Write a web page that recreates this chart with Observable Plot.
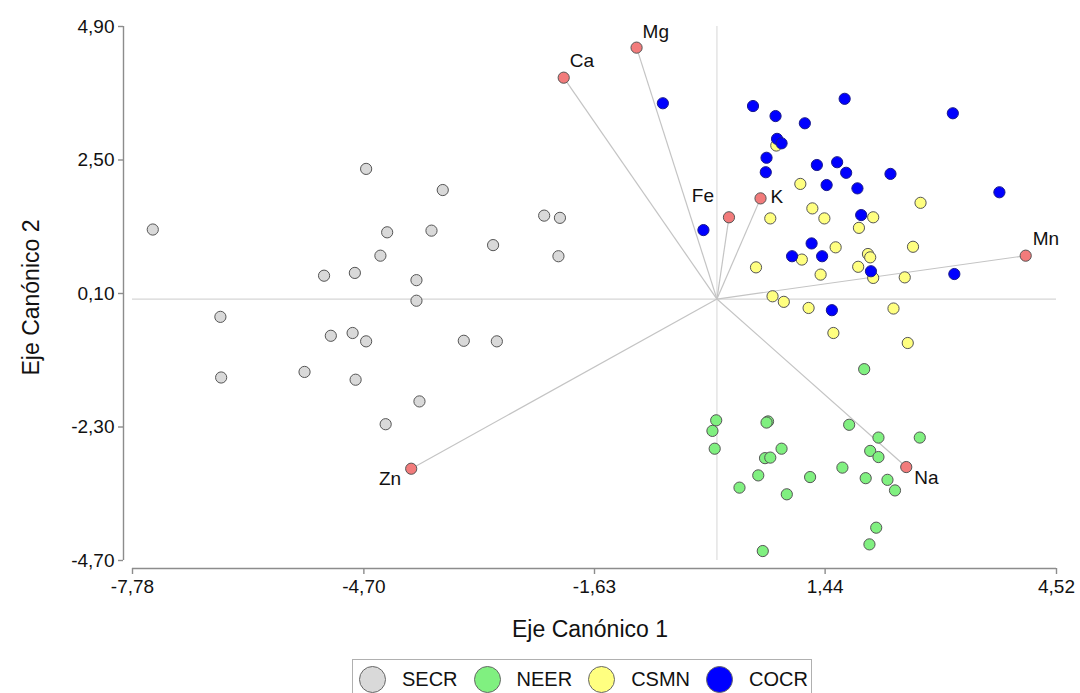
<!DOCTYPE html>
<html>
<head>
<meta charset="utf-8">
<script src="https://cdn.jsdelivr.net/npm/d3@7"></script>
<script src="https://cdn.jsdelivr.net/npm/@observablehq/plot@0.6"></script>
<style>
  body { margin: 0; background: #fff; font-family: "Liberation Sans", Arial, sans-serif; }
  #legend { position: relative; margin-top: 7px; margin-left: 352px; width: 460px; height: 40px;
            border: 1px solid #b0b0b0; box-sizing: border-box; display: flex; align-items: center;
            padding-left: 6px; font-size: 20px; color: #111; }
  #legend .sw { width: 27px; height: 27px; border-radius: 50%; box-sizing: border-box; border: 1.5px solid #666; margin-right: 16px; flex: none; }
  #legend .lb { margin-right: 16px; }
</style>
</head>
<body>
<div id="chart"></div>
<div id="legend"></div>
<script>
// ---- data ----
const groups = ["SECR", "NEER", "CSMN", "COCR"];
const groupColors = ["#d9d9d9", "#80f080", "#ffff80", "#0000ff"];
const groupStrokes = ["#555555", "#555555", "#555555", "#1a1a8c"];

const secrX = [-7.51, -4.67, -3.65, -2.30, -2.09, -4.39, -3.80, -2.98, -2.11, -4.48, -5.23, -4.82, -4.00, -4.00, -6.61, -5.14, -4.85, -4.67, -3.37, -2.93, -6.60, -5.49, -4.81, -3.96, -4.41];
const secrY = [1.25, 2.34, 1.96, 1.50, 1.46, 1.20, 1.23, 0.97, 0.77, 0.78, 0.42, 0.47, 0.34, -0.03, -0.32, -0.66, -0.61, -0.76, -0.75, -0.76, -1.41, -1.31, -1.45, -1.84, -2.25];

const neerX = [1.96, -0.01, -0.06, -0.03, 0.68, 0.66, 1.76, 2.15, 2.70, 0.86, 2.04, 2.15, 0.64, 0.71, 1.67, 0.55, 1.24, 1.98, 2.27, 2.37, 0.30, 0.93, 2.12, 2.03, 0.61];
const neerY = [-1.26, -2.18, -2.37, -2.69, -2.20, -2.22, -2.26, -2.49, -2.49, -2.69, -2.73, -2.84, -2.86, -2.85, -3.03, -3.17, -3.20, -3.22, -3.25, -3.44, -3.39, -3.51, -4.11, -4.41, -4.53];

const csmnX = [0.79, 1.11, 1.27, 0.71, 1.43, 2.08, 2.71, 1.89, 1.58, 2.61, 2.01, 2.04, 1.13, 0.52, 1.88, 1.38, 2.08, 2.50, 0.74, 0.89, 1.22, 2.35, 1.55, 2.54];
const csmnY = [2.76, 2.07, 1.63, 1.45, 1.45, 1.47, 1.73, 1.28, 0.93, 0.94, 0.81, 0.75, 0.71, 0.57, 0.58, 0.44, 0.38, 0.39, 0.05, -0.05, -0.16, -0.17, -0.61, -0.79];

const cocrX = [0.48, 1.70, 0.78, 1.17, 3.14, 0.80, 0.86, 0.66, 0.65, 1.33, 1.60, 1.72, 2.31, 1.46, 1.87, 3.76, -0.18, 1.92, 1.26, 1.00, 1.40, 2.05, 3.16, 1.53, -0.72];
const cocrY = [3.47, 3.60, 3.29, 3.16, 3.34, 2.88, 2.80, 2.54, 2.28, 2.41, 2.46, 2.27, 2.25, 2.05, 1.99, 1.92, 1.24, 1.51, 1.00, 0.77, 0.77, 0.50, 0.45, -0.20, 3.52];

const varNames = ["Ca", "Mg", "Fe", "K", "Mn", "Na", "Zn"];
const varX = [-2.04, -1.07, 0.16, 0.58, 4.11, 2.52, -4.07];
const varY = [3.98, 4.52, 1.47, 1.81, 0.78, -3.02, -3.05];

const xTicks = [-7.78, -4.70, -1.63, 1.44, 4.52];
const yTicks = [-4.70, -2.30, 0.10, 2.50, 4.90];
const xTitle = "Eje Canónico 1";
const yTitle = "Eje Canónico 2";

// ---- build tables ----
const seriesX = [secrX, neerX, csmnX, cocrX];
const seriesY = [secrY, neerY, csmnY, cocrY];
const pts = groups.map((g, i) => seriesX[i].map((x, j) => ({group: g, x, y: seriesY[i][j]})));
const vars = varNames.map((n, i) => ({name: n, x: varX[i], y: varY[i]}));

// label placement style per variable
const labelStyle = {
  Ca: {anchor: "start", dx: 6, dy: -17},
  Mg: {anchor: "start", dx: 6, dy: -16},
  Fe: {anchor: "end", dx: -15, dy: -21},
  K:  {anchor: "start", dx: 10, dy: -1},
  Mn: {anchor: "start", dx: 7, dy: -17},
  Na: {anchor: "start", dx: 8, dy: 11},
  Zn: {anchor: "end", dx: -10, dy: 10}
};

const fmt = d => d.toFixed(2).replace(".", ",");
const FONT = 19;

const dotMarks = pts.map((arr, i) => Plot.dot(arr, {
  x: "x", y: "y", r: 5.6, fill: groupColors[i], stroke: groupStrokes[i], strokeWidth: 1
}));

const labelMarks = varNames.map(n => Plot.text(vars.filter(v => v.name === n), {
  x: "x", y: "y", text: "name", textAnchor: labelStyle[n].anchor,
  dx: labelStyle[n].dx, dy: labelStyle[n].dy, fontSize: FONT, fill: "#111"
}));

const chart = Plot.plot({
  width: 1080,
  height: 652,
  marginLeft: 123,
  marginRight: 24,
  marginTop: 26,
  marginBottom: 84,
  style: {fontFamily: "'Liberation Sans', Arial, sans-serif", background: "#fff"},
  x: {domain: [-7.78, 4.52], insetLeft: 9},
  y: {domain: [-4.70, 4.90], insetBottom: 8},
  marks: [
    // origin reference lines
    Plot.ruleX([0], {y1: -4.70, y2: 4.90, stroke: "#d6d6d6", strokeWidth: 1}),
    Plot.ruleY([0], {x1: -7.78, x2: 4.52, stroke: "#d6d6d6", strokeWidth: 1.2}),
    // axis lines
    Plot.ruleX([-7.78], {y1: -4.70, y2: 4.90, dx: -9, stroke: "#8c8c8c", strokeWidth: 1.4}),
    Plot.ruleY([-4.70], {x1: -7.78, x2: 4.52, dy: 8, stroke: "#8c8c8c", strokeWidth: 1.4}),
    Plot.axisX({ticks: xTicks, tickFormat: fmt, tickSize: 6, tickPadding: 5, fontSize: FONT,
                stroke: "#8c8c8c", strokeWidth: 1.4, color: "#111", label: null}),
    Plot.axisY({ticks: yTicks, tickFormat: fmt, tickSize: 5, tickPadding: 4, fontSize: FONT,
                stroke: "#8c8c8c", strokeWidth: 1.4, color: "#111", label: null}),
    Plot.text([xTitle], {frameAnchor: "bottom", textAnchor: "middle", lineAnchor: "middle", dy: 61, fontSize: 23, fill: "#111"}),
    Plot.text([yTitle], {frameAnchor: "left", textAnchor: "middle", lineAnchor: "middle", dx: -92, rotate: -90, fontSize: 23, fill: "#111"}),
    // vectors
    Plot.link(vars, {x1: () => 0, y1: () => 0, x2: "x", y2: "y", stroke: "#c4c4c4", strokeWidth: 1.2}),
    ...dotMarks,
    Plot.dot(vars, {x: "x", y: "y", r: 5.6, fill: "#f27b7b", stroke: "#555", strokeWidth: 1}),
    ...labelMarks
  ]
});
document.getElementById("chart").appendChild(chart);

// legend
const legend = document.getElementById("legend");
groups.forEach((g, i) => {
  const sw = document.createElement("span");
  sw.className = "sw";
  sw.style.background = groupColors[i];
  legend.appendChild(sw);
  const lb = document.createElement("span");
  lb.className = "lb";
  lb.textContent = g;
  legend.appendChild(lb);
});
</script>
</body>
</html>
